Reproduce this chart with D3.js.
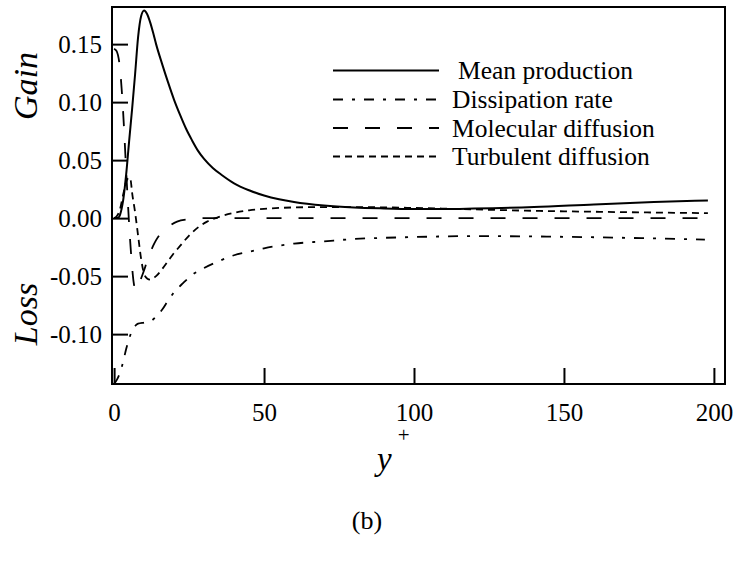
<!DOCTYPE html>
<html>
<head>
<meta charset="utf-8">
<script src="https://cdn.jsdelivr.net/npm/d3@7"></script>
<style>
  html, body { margin: 0; padding: 0; background: #fff; }
  svg { display: block; }
</style>
</head>
<body>
<svg id="chart" width="735" height="567"></svg>
<script>
// Turbulent kinetic energy budget terms versus wall distance y+
const seriesNames = ["Mean production", "Dissipation rate", "Molecular diffusion", "Turbulent diffusion"];

const productionX = [0, 1, 1.5, 2, 2.5, 3, 3.5, 4, 5, 6, 7, 8, 9, 10, 11, 12, 13, 14, 16, 18, 20, 22, 24, 26, 28, 30, 33, 36, 40, 45, 50, 55, 60, 70, 80, 90, 100, 110, 120, 140, 160, 180, 198];
const productionY = [0, 0, 0.0005, 0.003, 0.008, 0.015, 0.025, 0.037, 0.066, 0.094, 0.124, 0.156, 0.174, 0.179, 0.176, 0.169, 0.160, 0.150, 0.133, 0.117, 0.102, 0.089, 0.077, 0.067, 0.058, 0.051, 0.043, 0.037, 0.030, 0.024, 0.0195, 0.0162, 0.0138, 0.0108, 0.0092, 0.0084, 0.0079, 0.0078, 0.0082, 0.0095, 0.0118, 0.0138, 0.0152];

const dissipationX = [0, 0.5, 1, 2, 3, 4, 5, 6, 7, 8, 10, 12, 14, 16, 18, 20, 23, 26, 30, 35, 40, 45, 50, 60, 70, 80, 90, 100, 120, 140, 160, 180, 197];
const dissipationY = [-0.143, -0.141, -0.139, -0.133, -0.124, -0.113, -0.104, -0.097, -0.093, -0.091, -0.090, -0.089, -0.085, -0.079, -0.071, -0.064, -0.056, -0.049, -0.043, -0.037, -0.032, -0.029, -0.026, -0.022, -0.020, -0.018, -0.017, -0.0163, -0.0155, -0.0158, -0.0165, -0.0175, -0.0185];

const molecularX = [0, 0.5, 1, 1.5, 2, 2.5, 3, 3.5, 4, 4.5, 5, 5.5, 6, 6.5, 7, 7.5, 8, 9, 10, 11, 12, 13, 14, 16, 18, 21, 25, 30, 40, 60, 100, 150, 198];
const molecularY = [0.146, 0.145, 0.143, 0.138, 0.128, 0.112, 0.092, 0.068, 0.042, 0.018, -0.005, -0.025, -0.042, -0.055, -0.061, -0.062, -0.059, -0.052, -0.045, -0.037, -0.030, -0.024, -0.019, -0.012, -0.0075, -0.003, -0.001, 0, 0, 0, 0, 0, 0];

const turbulentX = [0, 1, 2, 3, 4, 5, 5.5, 6, 7, 8, 9, 10, 11, 12, 14, 16, 18, 20, 22, 25, 28, 31, 35, 40, 45, 50, 60, 70, 80, 100, 120, 140, 160, 180, 198];
const turbulentY = [0, 0.002, 0.008, 0.020, 0.031, 0.035, 0.033, 0.022, 0.005, -0.015, -0.035, -0.048, -0.052, -0.053, -0.050, -0.044, -0.037, -0.030, -0.024, -0.015, -0.008, -0.003, 0.001, 0.0045, 0.0067, 0.008, 0.0092, 0.0095, 0.0095, 0.0088, 0.0075, 0.0063, 0.0055, 0.0048, 0.0043];

const xTicks = [0, 50, 100, 150, 200];
const yTicks = [-0.10, -0.05, 0.00, 0.05, 0.10, 0.15];

const SERIF = '"Liberation Serif", "Times New Roman", Times, serif';

const svg = d3.select("#chart");
const frame = { left: 112, top: 7, right: 725, bottom: 384 };

const x = d3.scaleLinear().domain([-0.7, 203.7]).range([frame.left, frame.right]);
const y = d3.scaleLinear().domain([-0.143, 0.182]).range([frame.bottom, frame.top]);

const series = [
  { name: seriesNames[0], xs: productionX, ys: productionY, dash: null, width: 2 },
  { name: seriesNames[1], xs: dissipationX, ys: dissipationY, dash: "10,9,3,9", width: 1.8 },
  { name: seriesNames[2], xs: molecularX, ys: molecularY, dash: "15,17", width: 1.8 },
  { name: seriesNames[3], xs: turbulentX, ys: turbulentY, dash: "7,5", width: 1.8 }
];

// clip curves to the plotting frame
svg.append("defs").append("clipPath").attr("id", "plotClip")
  .append("rect")
  .attr("x", frame.left).attr("y", frame.top)
  .attr("width", frame.right - frame.left).attr("height", frame.bottom - frame.top);

const line = d3.line()
  .x(d => x(d[0]))
  .y(d => y(d[1]))
  .curve(d3.curveMonotoneX);

const curves = svg.append("g").attr("clip-path", "url(#plotClip)");
series.forEach(s => {
  const pts = s.xs.map((v, i) => [v, s.ys[i]]);
  curves.append("path")
    .datum(pts)
    .attr("d", line)
    .attr("fill", "none")
    .attr("stroke", "#000")
    .attr("stroke-width", s.width)
    .attr("stroke-dasharray", s.dash);
});

// inward ticks on the left and bottom axes; negative labels use a plain hyphen
const fmt2 = d3.format(".2f");
const yAxis = d3.axisLeft(y).tickValues(yTicks).tickSizeInner(-16).tickSizeOuter(0)
  .tickPadding(10).tickFormat(d => fmt2(d).replace("\u2212", "-"));
const gy = svg.append("g").attr("transform", `translate(${frame.left},0)`).call(yAxis);
gy.select(".domain").remove();
gy.selectAll(".tick line").attr("stroke", "#000").attr("stroke-width", 2);
gy.selectAll(".tick text").attr("fill", "#000")
  .style("font-family", SERIF).style("font-size", "25px");

const xAxis = d3.axisBottom(x).tickValues(xTicks).tickSizeInner(-16).tickSizeOuter(0)
  .tickPadding(19).tickFormat(d3.format("d"));
const gx = svg.append("g").attr("transform", `translate(0,${frame.bottom})`).call(xAxis);
gx.select(".domain").remove();
gx.selectAll(".tick line").attr("stroke", "#000").attr("stroke-width", 2);
gx.selectAll(".tick text").attr("fill", "#000")
  .style("font-family", SERIF).style("font-size", "25px");

// plot frame
svg.append("rect")
  .attr("x", frame.left).attr("y", frame.top)
  .attr("width", frame.right - frame.left).attr("height", frame.bottom - frame.top)
  .attr("fill", "none").attr("stroke", "#000").attr("stroke-width", 2);

// legend
const legend = svg.append("g");
const legendRows = [70.5, 99.5, 128, 156.5];
series.forEach((s, i) => {
  const ly = legendRows[i];
  legend.append("line")
    .attr("x1", 333).attr("x2", 439).attr("y1", ly).attr("y2", ly)
    .attr("stroke", "#000").attr("stroke-width", s.width)
    .attr("stroke-dasharray", s.dash);
  legend.append("text")
    .attr("x", i === 0 ? 458 : 452).attr("y", ly + 8.5)
    .style("font-family", SERIF).style("font-size", "25.5px")
    .text(s.name);
});

// axis titles
svg.append("text")
  .attr("transform", "translate(37,86) rotate(-90)")
  .attr("text-anchor", "middle")
  .style("font-family", SERIF).style("font-size", "34px").style("font-style", "italic")
  .text("Gain");
svg.append("text")
  .attr("transform", "translate(37,314) rotate(-90)")
  .attr("text-anchor", "middle")
  .style("font-family", SERIF).style("font-size", "34px").style("font-style", "italic")
  .text("Loss");

const xt = svg.append("text")
  .attr("x", 377).attr("y", 470)
  .style("font-family", SERIF).style("font-size", "33px");
xt.append("tspan").style("font-style", "italic").text("y");
xt.append("tspan").style("font-size", "21px").attr("dx", 6).attr("dy", -28).text("+");

svg.append("text")
  .attr("x", 367).attr("y", 529)
  .attr("text-anchor", "middle")
  .style("font-family", SERIF).style("font-size", "26px")
  .text("(b)");
</script>
</body>
</html>
